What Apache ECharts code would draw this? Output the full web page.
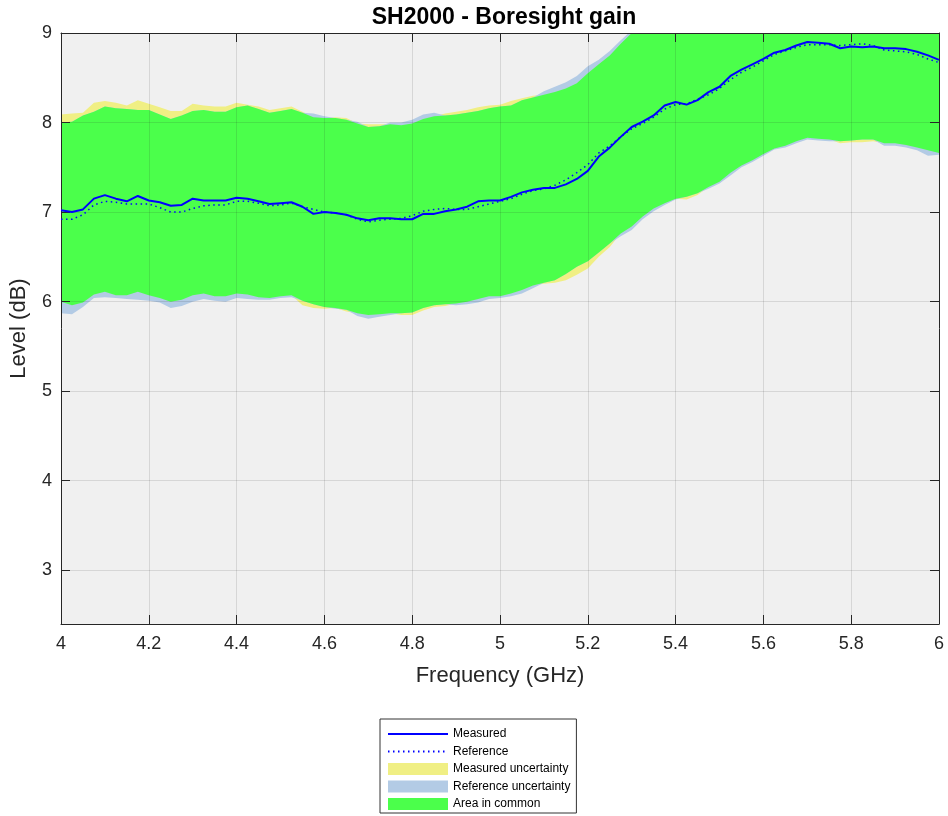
<!DOCTYPE html>
<html>
<head>
<meta charset="utf-8">
<title>SH2000 - Boresight gain</title>
<script src="https://cdn.jsdelivr.net/npm/echarts@6/dist/echarts.min.js"></script>
<style>
  html, body { margin: 0; padding: 0; background: #ffffff; }
  #chart { width: 948px; height: 816px; }
</style>
</head>
<body>
<div id="chart"></div>
<script>
// Frequency grid (GHz)
const freq = [
  4.000, 4.025, 4.050, 4.075, 4.100, 4.125, 4.150, 4.175, 4.200, 4.225,
  4.250, 4.275, 4.300, 4.325, 4.350, 4.375, 4.400, 4.425, 4.450, 4.475,
  4.500, 4.525, 4.550, 4.575, 4.600, 4.625, 4.650, 4.675, 4.700, 4.725,
  4.750, 4.775, 4.800, 4.825, 4.850, 4.875, 4.900, 4.925, 4.950, 4.975,
  5.000, 5.025, 5.050, 5.075, 5.100, 5.125, 5.150, 5.175, 5.200, 5.225,
  5.250, 5.275, 5.300, 5.325, 5.350, 5.375, 5.400, 5.425, 5.450, 5.475,
  5.500, 5.525, 5.550, 5.575, 5.600, 5.625, 5.650, 5.675, 5.700, 5.725,
  5.750, 5.775, 5.800, 5.825, 5.850, 5.875, 5.900, 5.925, 5.950, 5.975,
  6.000
];

// Measured boresight gain (dB)
const measured = [
  7.02, 7.00, 7.03, 7.15, 7.19, 7.15, 7.12, 7.18, 7.13, 7.11,
  7.07, 7.08, 7.15, 7.13, 7.13, 7.13, 7.16, 7.15, 7.12, 7.09,
  7.10, 7.11, 7.06, 6.98, 7.00, 6.99, 6.97, 6.93, 6.91, 6.93,
  6.93, 6.92, 6.92, 6.98, 6.98, 7.01, 7.03, 7.06, 7.12, 7.13,
  7.13, 7.17, 7.22, 7.25, 7.27, 7.27, 7.31, 7.37, 7.46, 7.62,
  7.72, 7.84, 7.95, 8.01, 8.08, 8.19, 8.23, 8.20, 8.25, 8.34,
  8.40, 8.52, 8.59, 8.65, 8.71, 8.78, 8.81, 8.86, 8.90, 8.89,
  8.88, 8.83, 8.85, 8.84, 8.85, 8.83, 8.83, 8.82, 8.79, 8.75,
  8.70
];

// Reference boresight gain (dB)
const reference = [
  6.92, 6.92, 6.97, 7.08, 7.12, 7.11, 7.09, 7.09, 7.09, 7.05,
  7.00, 7.00, 7.04, 7.07, 7.08, 7.08, 7.12, 7.12, 7.10, 7.07,
  7.08, 7.10, 7.06, 7.03, 7.00, 6.99, 6.97, 6.92, 6.89, 6.91,
  6.92, 6.93, 6.96, 7.01, 7.03, 7.04, 7.03, 7.03, 7.06, 7.09,
  7.12, 7.15, 7.20, 7.24, 7.26, 7.30, 7.36, 7.44, 7.53, 7.66,
  7.74, 7.84, 7.93, 7.99, 8.06, 8.15, 8.20, 8.21, 8.26, 8.31,
  8.38, 8.48, 8.56, 8.62, 8.69, 8.76, 8.80, 8.84, 8.87, 8.87,
  8.87, 8.86, 8.87, 8.88, 8.86, 8.81, 8.80, 8.79, 8.76, 8.71,
  8.67
];

// Measured uncertainty band limits (dB)
const measUpper = [
  8.09, 8.10, 8.11, 8.22, 8.24, 8.22, 8.19, 8.25, 8.21, 8.17,
  8.13, 8.13, 8.21, 8.19, 8.18, 8.18, 8.22, 8.20, 8.18, 8.14,
  8.16, 8.18, 8.12, 8.06, 8.05, 8.06, 8.05, 7.99, 7.98, 7.98,
  7.98, 7.97, 7.99, 8.04, 8.07, 8.10, 8.12, 8.14, 8.17, 8.19,
  8.20, 8.24, 8.27, 8.30, 8.31, 8.34, 8.38, 8.44, 8.55, 8.65,
  8.75, 8.88, 9.00, 9.07, 9.14, 9.24, 9.29, 9.27, 9.31, 9.40,
  9.46, 9.57, 9.65, 9.71, 9.77, 9.84, 9.87, 9.92, 9.96, 9.95,
  9.94, 9.89, 9.91, 9.90, 9.91, 9.89, 9.89, 9.88, 9.85, 9.81,
  9.76
];
const measLower = [
  6.00, 5.96, 5.99, 6.08, 6.11, 6.07, 6.07, 6.11, 6.07, 6.04,
  6.00, 6.02, 6.07, 6.09, 6.06, 6.06, 6.09, 6.08, 6.05, 6.04,
  6.06, 6.07, 5.96, 5.93, 5.92, 5.93, 5.89, 5.87, 5.85, 5.86,
  5.87, 5.85, 5.85, 5.90, 5.94, 5.95, 5.98, 6.00, 6.03, 6.06,
  6.06, 6.09, 6.13, 6.18, 6.20, 6.21, 6.24, 6.30, 6.37, 6.50,
  6.61, 6.76, 6.84, 6.95, 7.04, 7.10, 7.15, 7.14, 7.19, 7.28,
  7.34, 7.44, 7.52, 7.58, 7.65, 7.71, 7.74, 7.79, 7.83, 7.82,
  7.81, 7.77, 7.78, 7.78, 7.79, 7.77, 7.77, 7.75, 7.72, 7.69,
  7.66
];

// Reference uncertainty band limits (dB)
const refUpper = [
  8.00, 8.01, 8.08, 8.12, 8.18, 8.16, 8.15, 8.14, 8.14, 8.09,
  8.04, 8.08, 8.13, 8.14, 8.12, 8.12, 8.17, 8.19, 8.15, 8.11,
  8.13, 8.15, 8.11, 8.10, 8.07, 8.05, 8.03, 8.01, 7.95, 7.96,
  8.00, 8.00, 8.03, 8.09, 8.11, 8.08, 8.09, 8.11, 8.13, 8.16,
  8.18, 8.19, 8.25, 8.28, 8.35, 8.40, 8.45, 8.52, 8.63, 8.70,
  8.80, 8.92, 9.03, 9.09, 9.17, 9.26, 9.31, 9.32, 9.37, 9.42,
  9.49, 9.59, 9.67, 9.73, 9.80, 9.87, 9.91, 9.95, 9.98, 9.98,
  9.98, 9.97, 9.98, 9.99, 9.97, 9.92, 9.91, 9.90, 9.87, 9.82,
  9.78
];
const refLower = [
  5.87, 5.86, 5.94, 6.04, 6.05, 6.04, 6.03, 6.02, 6.01, 5.99,
  5.93, 5.95, 6.00, 6.03, 6.01, 6.00, 6.04, 6.03, 6.02, 6.02,
  6.04, 6.05, 6.01, 5.97, 5.94, 5.92, 5.91, 5.84, 5.81, 5.83,
  5.85, 5.87, 5.88, 5.93, 5.96, 5.97, 5.96, 5.97, 5.99, 6.03,
  6.04, 6.06, 6.09, 6.15, 6.21, 6.24, 6.31, 6.39, 6.45, 6.55,
  6.65, 6.73, 6.80, 6.92, 7.01, 7.08, 7.14, 7.17, 7.21, 7.26,
  7.32, 7.41, 7.50, 7.56, 7.63, 7.70, 7.72, 7.77, 7.81, 7.80,
  7.79, 7.79, 7.80, 7.81, 7.81, 7.74, 7.74, 7.72, 7.69, 7.63,
  7.64
];

// Overlap of the two uncertainty bands
const commonUpper = measUpper.map((v, i) => Math.min(v, refUpper[i]));
const commonLower = measLower.map((v, i) => Math.max(v, refLower[i]));

const xTicks = { min: 4, max: 6, step: 0.2 };
const yTicks = { min: 2.4, max: 9, step: 1 };

const AXIS_COLOR = '#262626';
const FONT = 'Liberation Sans, Arial, Helvetica, sans-serif';
const isWhole = v => Math.abs(v - Math.round(v)) < 1e-6;

// Closed polygon between an upper and a lower limit, drawn in data coordinates
function bandSeries(name, upper, lower, color, z) {
  return {
    name: name,
    type: 'custom',
    coordinateSystem: 'cartesian2d',
    xAxisIndex: 0,
    yAxisIndex: 0,
    clip: true,
    silent: true,
    z: z,
    itemStyle: { color: color },
    data: [[freq[0], upper[0]]],
    renderItem: function (params, api) {
      const pts = [];
      for (let i = 0; i < freq.length; i++) pts.push(api.coord([freq[i], upper[i]]));
      for (let i = freq.length - 1; i >= 0; i--) pts.push(api.coord([freq[i], lower[i]]));
      return {
        type: 'polygon',
        shape: { points: pts },
        style: { fill: color, stroke: null }
      };
    }
  };
}

const chart = echarts.init(document.getElementById('chart'), null, { renderer: 'canvas' });

chart.setOption({
  animation: false,
  backgroundColor: '#ffffff',
  title: {
    text: 'SH2000 - Boresight gain',
    left: 499,
    top: 1,
    textAlign: 'center',
    textStyle: { fontFamily: FONT, fontSize: 23, fontWeight: 'bold', color: '#000000' }
  },
  grid: {
    left: 60, right: 9, top: 33, bottom: 192,
    show: true,
    backgroundColor: '#f0f0f0',
    borderWidth: 0
  },
  legend: {
    orient: 'vertical',
    left: 380,
    top: 719,
    backgroundColor: '#ffffff',
    borderColor: '#333333',
    borderWidth: 1,
    borderRadius: 0,
    padding: [9, 6, 3, 7],
    itemWidth: 60,
    itemHeight: 12,
    itemGap: 5.5,
    selectedMode: false,
    textStyle: { fontFamily: FONT, fontSize: 12, color: '#000000' },
    data: [
      { name: 'Measured', itemStyle: { opacity: 0 } },
      { name: 'Reference', itemStyle: { opacity: 0 } },
      { name: 'Measured uncertainty', icon: 'rect' },
      { name: 'Reference uncertainty', icon: 'rect' },
      { name: 'Area in common', icon: 'rect' }
    ]
  },
  xAxis: [
    {
      type: 'value',
      min: xTicks.min, max: xTicks.max, interval: xTicks.step,
      position: 'bottom',
      z: 3,
      name: 'Frequency (GHz)',
      nameLocation: 'middle',
      nameGap: 41,
      nameTextStyle: { fontFamily: FONT, fontSize: 22, color: AXIS_COLOR },
      axisLine: { show: true, onZero: false, lineStyle: { color: AXIS_COLOR, width: 1 } },
      axisTick: { show: true, inside: true, length: 9, lineStyle: { color: AXIS_COLOR } },
      axisLabel: {
        margin: 11, fontFamily: FONT, fontSize: 18, color: AXIS_COLOR,
        formatter: v => String(Math.round(v * 10) / 10)
      },
      splitLine: { show: true, lineStyle: { color: 'rgba(38,38,38,0.13)', width: 1 } }
    },
    {
      type: 'value',
      min: xTicks.min, max: xTicks.max, interval: xTicks.step,
      position: 'top',
      z: 3,
      axisLine: { show: true, onZero: false, lineStyle: { color: AXIS_COLOR, width: 1 } },
      axisTick: { show: true, inside: true, length: 9, lineStyle: { color: AXIS_COLOR } },
      axisLabel: { show: false },
      splitLine: { show: false }
    }
  ],
  yAxis: [
    {
      type: 'value',
      min: yTicks.min, max: yTicks.max,
      minInterval: yTicks.step, maxInterval: yTicks.step,
      position: 'left',
      z: 3,
      name: 'Level (dB)',
      nameLocation: 'middle',
      nameGap: 31,
      nameTextStyle: { fontFamily: FONT, fontSize: 22, color: AXIS_COLOR },
      axisLine: { show: true, onZero: false, lineStyle: { color: AXIS_COLOR, width: 1 } },
      axisTick: {
        show: true, inside: true, length: 9, lineStyle: { color: AXIS_COLOR },
        interval: (i, v) => isWhole(v)
      },
      axisLabel: {
        margin: 9, fontFamily: FONT, fontSize: 18, color: AXIS_COLOR,
        showMinLabel: false,
        formatter: v => (isWhole(v) ? String(Math.round(v)) : '')
      },
      splitLine: {
        show: true,
        interval: (i, v) => isWhole(v),
        lineStyle: { color: 'rgba(38,38,38,0.13)', width: 1 }
      }
    },
    {
      type: 'value',
      min: yTicks.min, max: yTicks.max,
      minInterval: yTicks.step, maxInterval: yTicks.step,
      position: 'right',
      z: 3,
      axisLine: { show: true, onZero: false, lineStyle: { color: AXIS_COLOR, width: 1 } },
      axisTick: {
        show: true, inside: true, length: 9, lineStyle: { color: AXIS_COLOR },
        interval: (i, v) => isWhole(v)
      },
      axisLabel: { show: false },
      splitLine: { show: false }
    }
  ],
  series: [
    bandSeries('Measured uncertainty', measUpper, measLower, '#f0ef84', 1),
    bandSeries('Reference uncertainty', refUpper, refLower, '#b3cbe5', 1.1),
    bandSeries('Area in common', commonUpper, commonLower, '#4bff4b', 1.2),
    {
      name: 'Measured',
      type: 'line',
      xAxisIndex: 0, yAxisIndex: 0,
      z: 5,
      symbol: 'none',
      showSymbol: false,
      silent: true,
      itemStyle: { color: '#0000ff' },
      lineStyle: { color: '#0000ff', width: 2 },
      data: freq.map((f, i) => [f, measured[i]])
    },
    {
      name: 'Reference',
      type: 'line',
      xAxisIndex: 0, yAxisIndex: 0,
      z: 5,
      symbol: 'none',
      showSymbol: false,
      silent: true,
      itemStyle: { color: '#0000ff' },
      lineStyle: { color: '#0000ff', width: 1.5, type: [1.5, 3.5] },
      data: freq.map((f, i) => [f, reference[i]])
    }
  ]
});
</script>
</body>
</html>
